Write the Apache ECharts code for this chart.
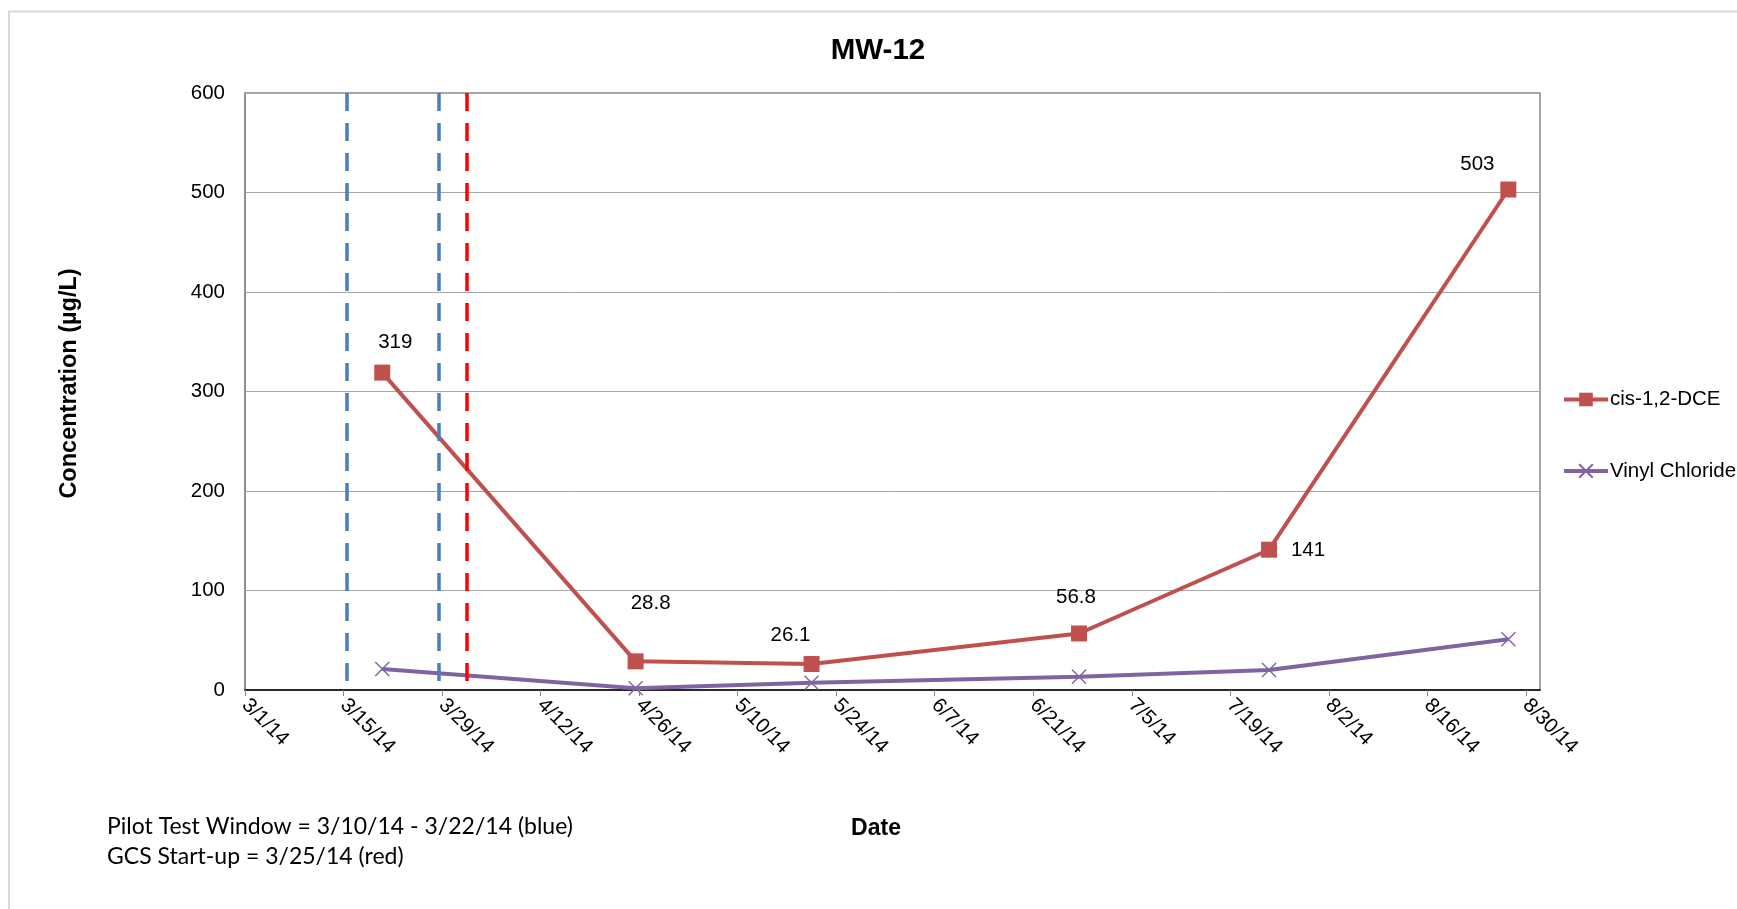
<!DOCTYPE html>
<html>
<head>
<meta charset="utf-8">
<script src="https://cdn.jsdelivr.net/npm/echarts@6/dist/echarts.min.js"></script>
<style>
  html, body { margin: 0; padding: 0; background: #fff; }
  #chart { width: 1737px; height: 909px; }
</style>
</head>
<body>
<div id="chart"></div>
<script>
// sample dates and concentrations (ug/L)
const sampleDates = ['2014-03-20', '2014-04-25', '2014-05-20', '2014-06-27', '2014-07-24', '2014-08-27'];
const cisDCE = [319, 28.8, 26.1, 56.8, 141, 503];
const vinylChloride = [21, 1.7, 7.3, 13.4, 20.1, 51];
const cisLabels = ['319', '28.8', '26.1', '56.8', '141', '503'];

// reference lines drawn on the chart
const pilotDates = ['2014-03-15', '2014-03-28'];
const gcsDates = ['2014-04-01'];

// axes
const axisStart = '2014-03-01';
const axisEnd = '2014-09-01';
const tickDays = 14;
const yTicks = [0, 100, 200, 300, 400, 500, 600];

const notes = [
    'Pilot Test Window = 3/10/14 - 3/22/14 (blue)',
    'GCS Start-up = 3/25/14 (red)'
];

// where each value label sits relative to its marker (px)
const labelOffsets = [[13, -30], [15, -58], [-21, -29], [-3, -36], [39, 1], [-31, -25]];

const DAY = 86400000;
const t0 = Date.parse(axisStart);
// excel puts the point in the middle of the day
function dayOf(d) { return (Date.parse(d) - t0) / DAY + 0.5 }
function fmtDay(v) {
    const d = new Date(t0 + v * DAY);
    return (d.getUTCMonth() + 1) + '/' + d.getUTCDate() + '/' + String(d.getUTCFullYear()).slice(2);
}

const font = "'Liberation Sans', Arial, sans-serif";
const xPath = 'path://M0,0L10,10M10,0L0,10';
const yTop = yTicks[yTicks.length - 1];

function eventLine(d, color) {
    // drawn top-down so the dash starts at the top edge like the original
    return [
        { coord: [dayOf(d), yTop], lineStyle: { color: color, width: 3.5, type: [18, 12] } },
        { coord: [dayOf(d), yTicks[0]] }
    ];
}

const chart = echarts.init(document.getElementById('chart'));
chart.setOption({
    animation: false,
    textStyle: { fontFamily: font },
    title: {
        text: 'MW-12',
        left: 873,
        top: 31,
        textAlign: 'center',
        textStyle: { fontSize: 29.5, fontWeight: 'bold', color: '#000', fontFamily: font }
    },
    legend: {
        orient: 'vertical',
        left: 1557,
        top: 384,
        itemWidth: 44,
        itemHeight: 17,
        itemGap: 50.5,
        lineStyle: { width: 4 },
        data: ['cis-1,2-DCE', 'Vinyl Chloride'],
        textStyle: { fontSize: 20.5, color: '#000', fontFamily: font, padding: [0, 0, 0, -3] }
    },
    grid: {
        left: 245,
        right: 197,
        top: 93,
        bottom: 219,
        show: true,
        borderColor: '#898989',
        borderWidth: 1.5
    },
    xAxis: {
        type: 'value',
        min: 0,
        max: dayOf(axisEnd) - 0.5,
        interval: tickDays,
        name: 'Date',
        nameLocation: 'middle',
        nameGap: 127,
        nameTextStyle: { fontSize: 23, fontWeight: 'bold', color: '#000', fontFamily: font, padding: [0, 33, 0, 0] },
        splitLine: { show: false },
        axisLine: { lineStyle: { color: '#000', width: 1.5 } },
        axisTick: { length: 6, lineStyle: { color: '#898989' } },
        axisLabel: {
            rotate: -45,
            margin: 12,
            fontSize: 20.5,
            color: '#000',
            fontFamily: font,
            showMaxLabel: false,
            formatter: fmtDay
        }
    },
    yAxis: {
        type: 'value',
        min: yTicks[0],
        max: yTop,
        interval: 100,
        name: 'Concentration (µg/L)',
        nameLocation: 'middle',
        nameGap: 163,
        nameTextStyle: { fontSize: 23.5, fontWeight: 'bold', color: '#000', fontFamily: font, padding: [0, 0, 0, 16] },
        axisLine: { show: true, lineStyle: { color: '#898989', width: 1.5 } },
        axisTick: { show: false },
        axisLabel: { fontSize: 20.5, color: '#000', margin: 20, fontFamily: font },
        splitLine: { lineStyle: { color: '#A6A6A6', width: 1 } }
    },
    graphic: [
        {
            type: 'rect',
            shape: { x: 9, y: 11.5, width: 2000, height: 2000 },
            style: { fill: 'none', stroke: '#D9D9D9', lineWidth: 2 },
            silent: true
        },
        {
            type: 'text',
            left: 107,
            top: 812,
            style: { text: notes.join('\n'), fontSize: 23, lineHeight: 30, fill: '#000', fontFamily: 'Lato, Carlito, sans-serif' }
        }
    ],
    series: [
        {
            name: 'events',
            type: 'line',
            data: [],
            silent: true,
            z: 1,
            markLine: {
                symbol: 'none',
                silent: true,
                label: { show: false },
                data: pilotDates.map(d => eventLine(d, '#4A7EBB'))
                    .concat(gcsDates.map(d => eventLine(d, '#FF0000')))
            }
        },
        {
            name: 'cis-1,2-DCE',
            type: 'line',
            z: 3,
            data: sampleDates.map((d, i) => ({
                value: [dayOf(d), cisDCE[i]],
                label: { offset: labelOffsets[i] }
            })),
            symbol: 'rect',
            symbolSize: 16,
            itemStyle: { color: '#C0504D' },
            lineStyle: { color: '#C0504D', width: 4 },
            label: {
                show: true,
                position: 'inside',
                fontSize: 20.5,
                color: '#000',
                fontFamily: font,
                formatter: p => cisLabels[p.dataIndex]
            }
        },
        {
            name: 'Vinyl Chloride',
            type: 'line',
            z: 2,
            data: sampleDates.map((d, i) => [dayOf(d), vinylChloride[i]]),
            symbol: xPath,
            symbolSize: 14,
            itemStyle: { color: '#8064A2', borderColor: '#8064A2', borderWidth: 1.4 },
            lineStyle: { color: '#8064A2', width: 4 }
        }
    ]
});
</script>
</body>
</html>
